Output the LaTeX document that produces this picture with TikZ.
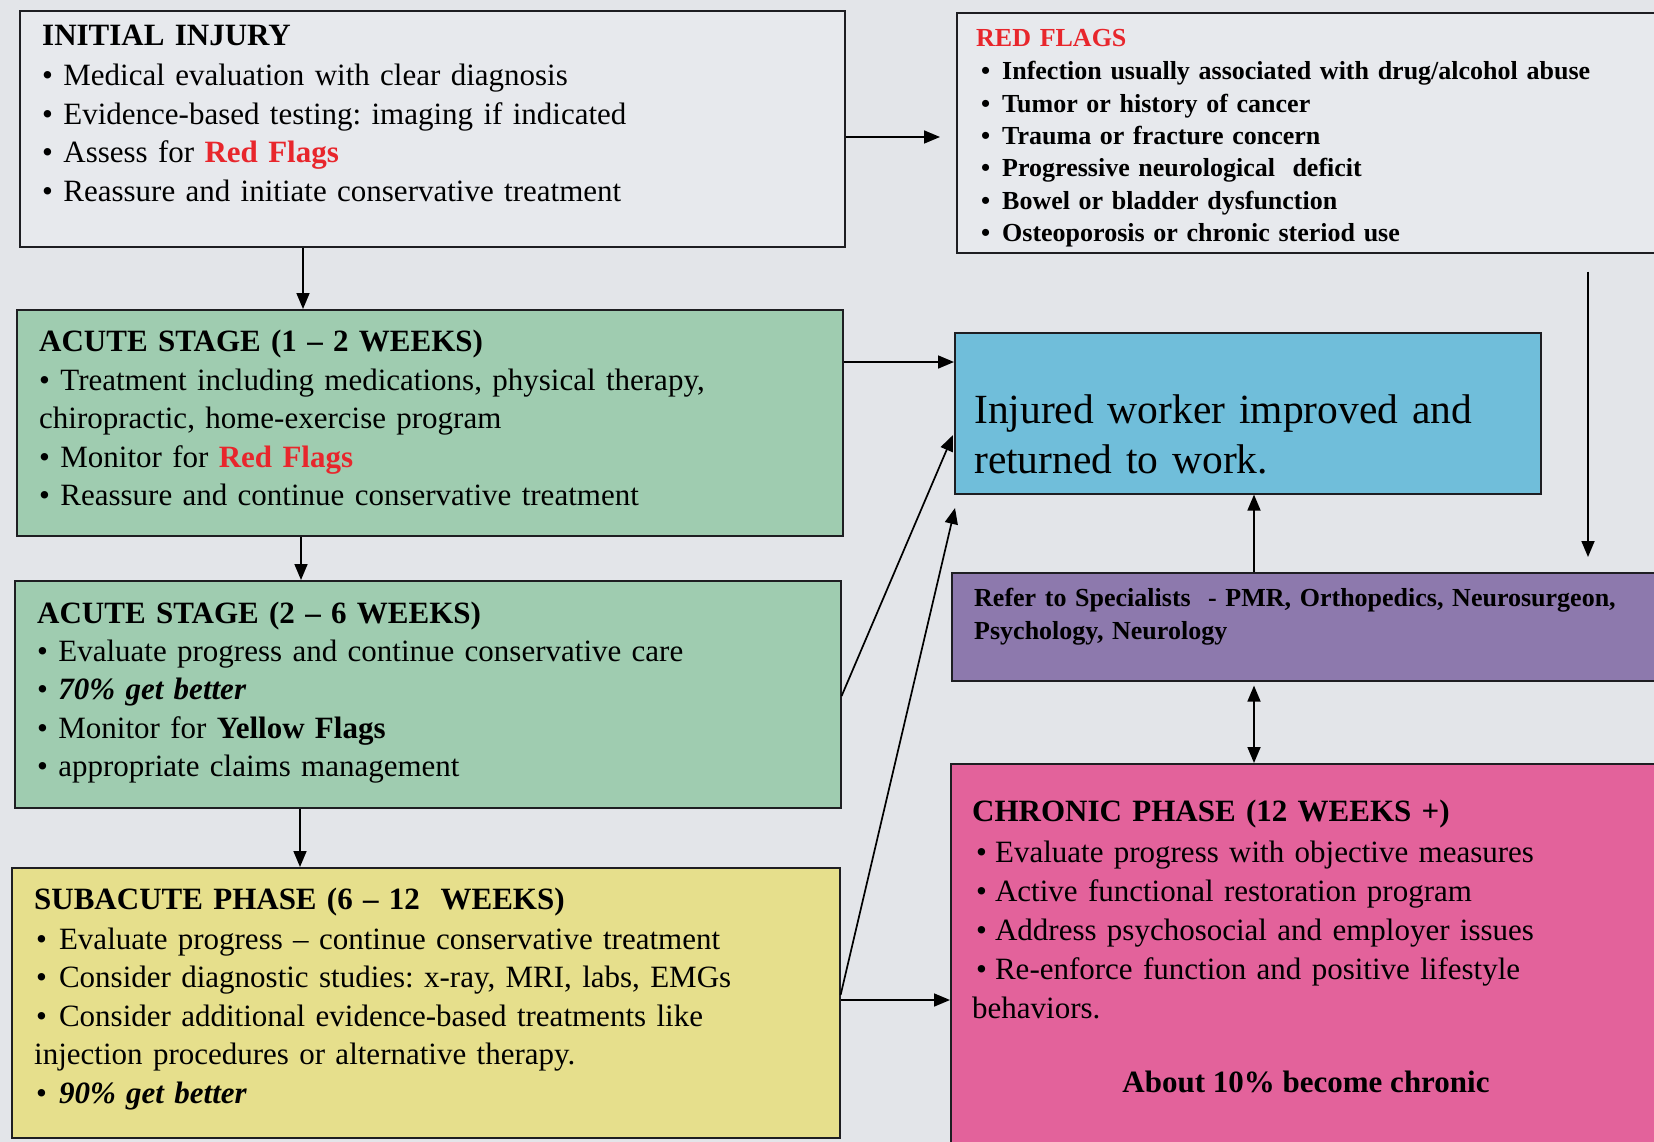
\documentclass[tikz,border=0pt]{standalone}
\usepackage{fontspec}
\setmainfont{Liberation Serif}
\usetikzlibrary{arrows.meta}
\frenchspacing
\definecolor{bgc}{HTML}{E3E5E9}
\definecolor{lightbox}{HTML}{E7E9ED}
\definecolor{greenbox}{HTML}{9FCCB0}
\definecolor{yellowbox}{HTML}{E6DF8C}
\definecolor{bluebox}{HTML}{70BEDA}
\definecolor{purplebox}{HTML}{8D79AD}
\definecolor{pinkbox}{HTML}{E3629B}
\definecolor{flagred}{HTML}{E8262C}
\definecolor{boxline}{HTML}{1E1E22}
\newcommand\bodyfont{\fontsize{31}{38.5}\selectfont}
\newcommand\smallbold{\fontsize{26}{32.3}\selectfont\bfseries}
\newcommand\rf{\textcolor{flagred}{\textbf{Red Flags}}}
\newcommand\bulA{\textbullet\hspace{8pt}}
\newcommand\bulB{\textbullet\hspace{12pt}}
\begin{document}
\frenchspacing
\begin{tikzpicture}[x=1pt,y=-1pt,
  box/.style={draw=boxline, line width=1.6pt, rectangle, anchor=north west, inner sep=0pt},
  tx/.style={anchor=base west, inner sep=0pt, align=left, text width=#1},
  arr/.style={draw=black, line width=1.7pt, -{Triangle[length=16pt,width=13pt]}},
  darr/.style={draw=black, line width=1.7pt, {Triangle[length=16pt,width=13pt]}-{Triangle[length=16pt,width=13pt]}}
]
\useasboundingbox (0,0) rectangle (1654,1142);
\fill[bgc] (0,0) rectangle (1654,1142);
\clip (0,0) rectangle (1654,1142);

% boxes
\node[box, fill=lightbox, minimum width=825pt, minimum height=236pt] (init) at (19,10) {};
\node[box, fill=lightbox, minimum width=710pt, minimum height=240pt] (flags) at (956,12) {};
\node[box, fill=greenbox, minimum width=826pt, minimum height=226pt] (acute1) at (16,309) {};
\node[box, fill=greenbox, minimum width=826pt, minimum height=227pt] (acute2) at (14,580) {};
\node[box, fill=yellowbox, minimum width=828pt, minimum height=270pt] (sub) at (11,867) {};
\node[box, fill=bluebox, minimum width=586pt, minimum height=161pt] (inj) at (954,332) {};
\node[box, fill=purplebox, minimum width=715pt, minimum height=108pt] (refer) at (951,572) {};
\node[box, fill=pinkbox, minimum width=715pt, minimum height=400pt] (chronic) at (950,763) {};

% texts
\node[tx=800pt, font=\bodyfont] (initT) at (42,46) {\textbf{INITIAL INJURY}\\[1.5pt]
\textbullet\ Medical evaluation with clear diagnosis\\
\textbullet\ Evidence-based testing: imaging if indicated\\
\textbullet\ Assess for \rf\\
\textbullet\ Reassure and initiate conservative treatment};

\node[tx=680pt, font=\smallbold] (flagsT) at (976,47) {\textcolor{flagred}{RED FLAGS}\\[0.7pt]
\hspace*{5pt}\makebox[21pt][l]{\textbullet}Infection usually associated with drug/alcohol abuse\\
\hspace*{5pt}\makebox[21pt][l]{\textbullet}Tumor or history of cancer\\
\hspace*{5pt}\makebox[21pt][l]{\textbullet}Trauma or fracture concern\\
\hspace*{5pt}\makebox[21pt][l]{\textbullet}Progressive neurological\ \ deficit\\
\hspace*{5pt}\makebox[21pt][l]{\textbullet}Bowel or bladder dysfunction\\
\hspace*{5pt}\makebox[21pt][l]{\textbullet}Osteoporosis or chronic steriod use};

\node[tx=800pt, font=\bodyfont] (acute1T) at (39,351) {\textbf{ACUTE STAGE (1 -- 2 WEEKS)}\\[0.5pt]
\textbullet\ Treatment including medications, physical therapy,\\
chiropractic, home-exercise program\\
\textbullet\ Monitor for \rf\\
\textbullet\ Reassure and continue conservative treatment};

\node[tx=800pt, font=\bodyfont] (acute2T) at (37,623) {\textbf{ACUTE STAGE (2 -- 6 WEEKS)}\\[-0.5pt]
\textbullet\ Evaluate progress and continue conservative care\\
\textbullet\ \textbf{\textit{70\% get better}}\\
\textbullet\ Monitor for \textbf{Yellow Flags}\\
\textbullet\ appropriate claims management};

\node[tx=810pt, font=\bodyfont] (subT) at (34,909) {\textbf{SUBACUTE PHASE (6 -- 12\ \ WEEKS)}\\[1.5pt]
\hspace*{2pt}\bulB Evaluate progress -- continue conservative treatment\\
\hspace*{2pt}\bulB Consider diagnostic studies: x-ray, MRI, labs, EMGs\\
\hspace*{2pt}\bulB Consider additional evidence-based treatments like\\
injection procedures or alternative therapy.\\
\hspace*{2pt}\bulB \textbf{\textit{90\% get better}}};

\node[tx=560pt, font=\fontsize{41.5}{50}\selectfont] (injT) at (974,423) {Injured worker improved and\\
returned to work.};

\node[tx=680pt, font=\smallbold] (referT) at (974,606) {Refer to Specialists\ \ - PMR, Orthopedics, Neurosurgeon,\\[0.7pt]
Psychology, Neurology};

\node[tx=690pt, font=\fontsize{31}{38.8}\selectfont] (chronicT) at (972,821) {\textbf{CHRONIC PHASE (12 WEEKS +)}\\[3pt]
\hspace*{4pt}\bulA Evaluate progress with objective measures\\
\hspace*{4pt}\bulA Active functional restoration program\\
\hspace*{4pt}\bulA Address psychosocial and employer issues\\
\hspace*{4pt}\bulA Re-enforce function and positive lifestyle\\
behaviors.};

\node[anchor=base, inner sep=0pt, font=\fontsize{31}{38.5}\selectfont\bfseries] (chronicB) at (1306,1092) {About 10\% become chronic};

% helper coordinates
\coordinate (xa) at (303,0);
\coordinate (xb) at (301,0);
\coordinate (xc) at (300,0);
\coordinate (ya) at (0,137);
\coordinate (yb) at (0,362);
\coordinate (yc) at (0,1000);
\coordinate (yd) at (0,696);
\coordinate (ye) at (0,995);
\coordinate (xd) at (1588,0);
\coordinate (xe) at (1254,0);
\coordinate (a2e) at (953,435);
\coordinate (sbe) at (955,508);

% connectors
\draw[arr] (init.south -| xa) -- (acute1.north -| xa);
\draw[arr] (acute1.south -| xb) -- (acute2.north -| xb);
\draw[arr] (acute2.south -| xc) -- (sub.north -| xc);
\draw[arr, shorten >=16pt] (init.east |- ya) -- (flags.west |- ya);
\draw[arr] (acute1.east |- yb) -- (inj.west |- yb);
\draw[arr] (acute2.east |- yd) -- (a2e);
\draw[arr] (sub.east |- ye) -- (sbe);
\draw[arr] (sub.east |- yc) -- (chronic.west |- yc);
\draw[arr, shorten <=18pt, shorten >=15pt] (flags.south -| xd) -- (refer.north -| xd);
\draw[arr] (refer.north -| xe) -- (inj.south -| xe);
\draw[darr, shorten <=4pt] (refer.south -| xe) -- (chronic.north -| xe);
\end{tikzpicture}
\end{document}
